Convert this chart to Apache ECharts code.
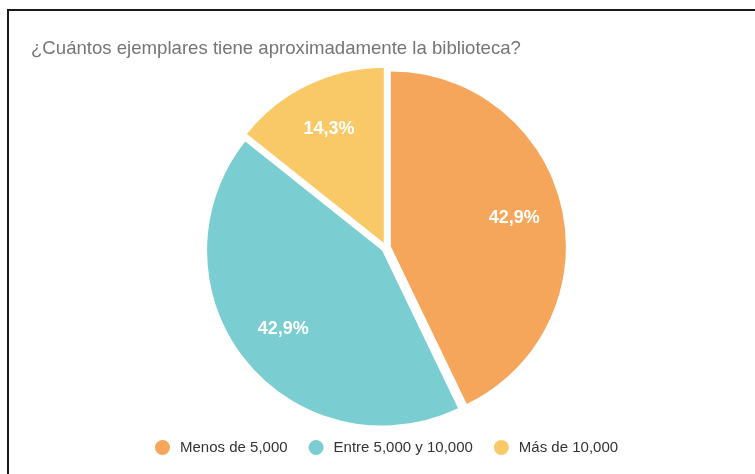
<!DOCTYPE html>
<html>
<head>
<meta charset="utf-8">
<script src="https://cdn.jsdelivr.net/npm/echarts@6/dist/echarts.min.js"></script>
<style>
  html, body { margin: 0; padding: 0; background: #fff; }
  #frame {
    position: absolute; left: 7px; top: 9px; width: 800px; height: 520px;
    border: 2px solid #1a1a1a; box-sizing: border-box;
  }
  #main { position: absolute; left: 0; top: 0; width: 755px; height: 474px; }
</style>
</head>
<body>
<div id="frame"></div>
<div id="main"></div>
<script>
// categories and counts
let categories = ["Menos de 5,000", "Entre 5,000 y 10,000", "Más de 10,000"];
let counts = [3, 3, 1];
let colors = ["#F6A65A", "#7ACDD0", "#FAC967"];

let titleText = "¿Cuántos ejemplares tiene aproximadamente la biblioteca?";

const myChart = echarts.init(document.getElementById("main"), null, {
  width: 755,
  height: 474,
});

let total = counts.reduce((a, b) => a + b, 0);

let pieData = categories.map((c, i) => ({
  name: c,
  value: counts[i],
  selected: true,
  itemStyle: { color: colors[i] },
}));

// label formatter with comma decimals (plain rounding, no largest remainder)
const pct = (p) => ((p.value / total) * 100).toFixed(1).replace(".", ",") + "%";

let center = [386, 247.5];

let option = {
  animation: false,
  textStyle: { fontFamily: "Liberation Sans, Arial, sans-serif" },
  title: {
    text: titleText,
    left: 26,
    top: 34,
    textStyle: { fontSize: 18.6, fontWeight: "normal", color: "#757575" },
  },
  legend: {
    data: categories,
    bottom: 14,
    left: 150,
    icon: "circle",
    itemWidth: 15,
    itemHeight: 15,
    itemGap: 21,
    selectedMode: false,
    textStyle: { fontSize: 15, color: "#333", padding: [0, 0, 0, 5] },
  },
  series: [
    {
      type: "pie",
      name: "slices",
      center,
      radius: [0, 175],
      startAngle: 90,
      selectedMode: "multiple",
      selectedOffset: 5,
      label: { show: false },
      labelLine: { show: false },
      emphasis: { disabled: true },
      data: pieData,
    },
    {
      // transparent ring only to place labels further out
      type: "pie",
      name: "labels",
      center,
      radius: [72, 175],
      startAngle: 90,
      selectedMode: "multiple",
      selectedOffset: 5,
      silent: true,
      itemStyle: { color: "rgba(0,0,0,0)" },
      emphasis: { disabled: true },
      label: {
        show: true,
        position: "inside",
        formatter: pct,
        color: "#fff",
        fontSize: 18,
        fontWeight: "bold",
      },
      labelLine: { show: false },
      data: categories.map((c, i) => ({ name: c, value: counts[i], selected: true })),
    },
  ],
};

option && myChart.setOption(option);
</script>
</body>
</html>
